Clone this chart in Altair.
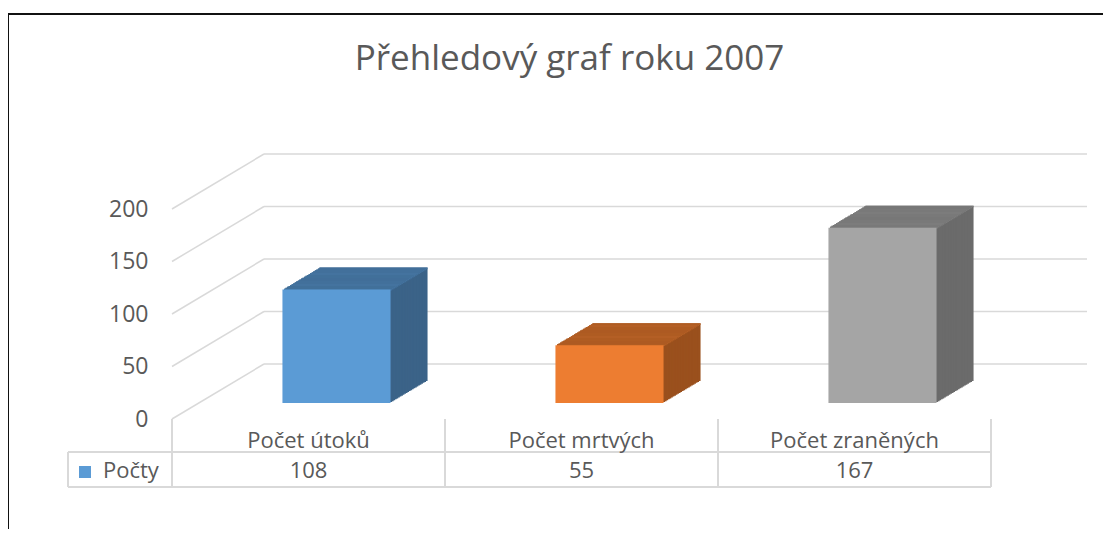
import altair as alt
import pandas as pd

# ---- data ----
title_text = "Přehledový graf roku 2007"
categories = ["Počet útoků", "Počet mrtvých", "Počet zraněných"]
values = [108, 55, 167]
series_name = "Počty"
y_ticks = [0, 50, 100, 150, 200]

# ---- styles ----
front_colors = ["#5B9BD5", "#ED7D31", "#A5A5A5"]
top_colors = ["#44739F", "#B45F25", "#7C7C7C"]
side_colors = ["#3B6388", "#9A501D", "#6B6B6B"]
text_color = "#595959"
grid_color = "#D9D9D9"
FONT = "Open Sans"

W, H = 819, 210          # plot area (floor front edge frame)
FX, FY = 28, -16         # bar front face offset from floor front edge
DX, DY = 37, 22          # bar depth
GX, GY = 92, 55          # back wall offset
N = 24                   # extrusion steps

df = pd.DataFrame({"cat": categories, "value": values})
grid_df = pd.DataFrame({"value": y_ticks})
one = pd.DataFrame({"s": [series_name]})

xscale = alt.Scale(domain=categories, paddingInner=0.604, paddingOuter=0.302)
yscale = alt.Scale(domain=[0, 200], nice=False, zero=True)
yaxis = alt.Axis(values=y_ticks, title=None, domain=False, ticks=False, grid=False,
                 labelPadding=24, labelFont=FONT, labelFontSize=23, labelColor=text_color)
x_enc = alt.X("cat:N", sort=categories, scale=xscale, axis=None)
y_enc = alt.Y("value:Q", scale=yscale, axis=yaxis)


def col(colors):
    return alt.Color("cat:N", scale=alt.Scale(domain=categories, range=colors), legend=None)


layers = []

# back wall gridlines
layers.append(
    alt.Chart(grid_df).mark_rule(color=grid_color, strokeWidth=1.5, yOffset=-GY).encode(
        y=y_enc, x=alt.value(GX), x2=alt.value(W + GX + 4),
    )
)
# side wall diagonals
layers.append(
    alt.Chart(grid_df).mark_rule(color=grid_color, strokeWidth=1.5, y2Offset=-GY).encode(
        y=y_enc, y2=alt.Y2("value"),
        x=alt.value(0), x2=alt.value(GX),
    )
)

# 3D bar extrusion (back to front)
for k in range(N, 0, -1):
    xo = FX + DX * k / N
    yo = FY - DY * k / N
    layers.append(
        alt.Chart(df).mark_bar(xOffset=xo, x2Offset=xo, yOffset=yo, y2Offset=yo).encode(
            x=x_enc, y=y_enc, y2=alt.datum(0), color=col(side_colors)
        )
    )
    layers.append(
        alt.Chart(df).mark_bar(xOffset=xo, x2Offset=xo, yOffset=yo,
                               y2Offset=yo + DY / N + 0.8).encode(
            x=x_enc, y=y_enc, y2=alt.Y2("value"), color=col(top_colors)
        )
    )
# front faces
layers.append(
    alt.Chart(df).mark_bar(xOffset=FX, x2Offset=FX, yOffset=FY, y2Offset=FY).encode(
        x=x_enc, y=y_enc, y2=alt.datum(0), color=col(front_colors)
    )
)

# data table lines
rule_style = dict(color=grid_color, strokeWidth=2)
layers.append(
    alt.Chart(df).mark_rule(xOffset=-W / 6, **rule_style).encode(
        x=x_enc, y=alt.value(H), y2=alt.value(H + 68)
    )
)
layers.append(
    alt.Chart(df).transform_filter(alt.datum.cat == categories[-1]).mark_rule(
        xOffset=W / 6, **rule_style).encode(
        x=x_enc, y=alt.value(H), y2=alt.value(H + 68)
    )
)
for yy in (H + 33, H + 68):
    layers.append(
        alt.Chart(one).mark_rule(**rule_style).encode(
            x=alt.value(-104), x2=alt.value(W), y=alt.value(yy)
        )
    )
layers.append(
    alt.Chart(one).mark_rule(**rule_style).encode(
        x=alt.value(-104), y=alt.value(H + 33), y2=alt.value(H + 68)
    )
)

# data table texts
txt = dict(font=FONT, fontSize=22, color=text_color, baseline="middle")
layers.append(
    alt.Chart(df).mark_text(**txt).encode(x=x_enc, y=alt.value(H + 22), text="cat:N")
)
layers.append(
    alt.Chart(df).mark_text(**txt).encode(x=x_enc, y=alt.value(H + 52), text="value:Q")
)
layers.append(
    alt.Chart(one).mark_text(align="left", **txt).encode(
        x=alt.value(-69), y=alt.value(H + 52), text="s:N")
)
layers.append(
    alt.Chart(one).mark_square(size=144, color=front_colors[0], opacity=1).encode(
        x=alt.value(-87), y=alt.value(H + 53))
)

# outer frame (top and left)
layers.append(
    alt.Chart(one).mark_rule(color="#111111", strokeWidth=2).encode(
        x=alt.value(-164), x2=alt.value(W + 200), y=alt.value(-195))
)
layers.append(
    alt.Chart(one).mark_rule(color="#111111", strokeWidth=2).encode(
        x=alt.value(-164), y=alt.value(-195), y2=alt.value(H + 200))
)

chart = alt.layer(*layers).resolve_scale(color="independent").properties(
    width=W, height=H,
    title=alt.TitleParams(title_text, font=FONT, fontSize=35, fontWeight="normal",
                          color=text_color, anchor="middle", offset=-64, dx=-12),
    autosize=alt.AutoSizeParams(type="none"),
    padding={"left": 164, "top": 201, "right": 112, "bottom": 110},
).configure_view(stroke=None)

chart.save("out.html", embed_options={"renderer": "svg", "actions": False})
